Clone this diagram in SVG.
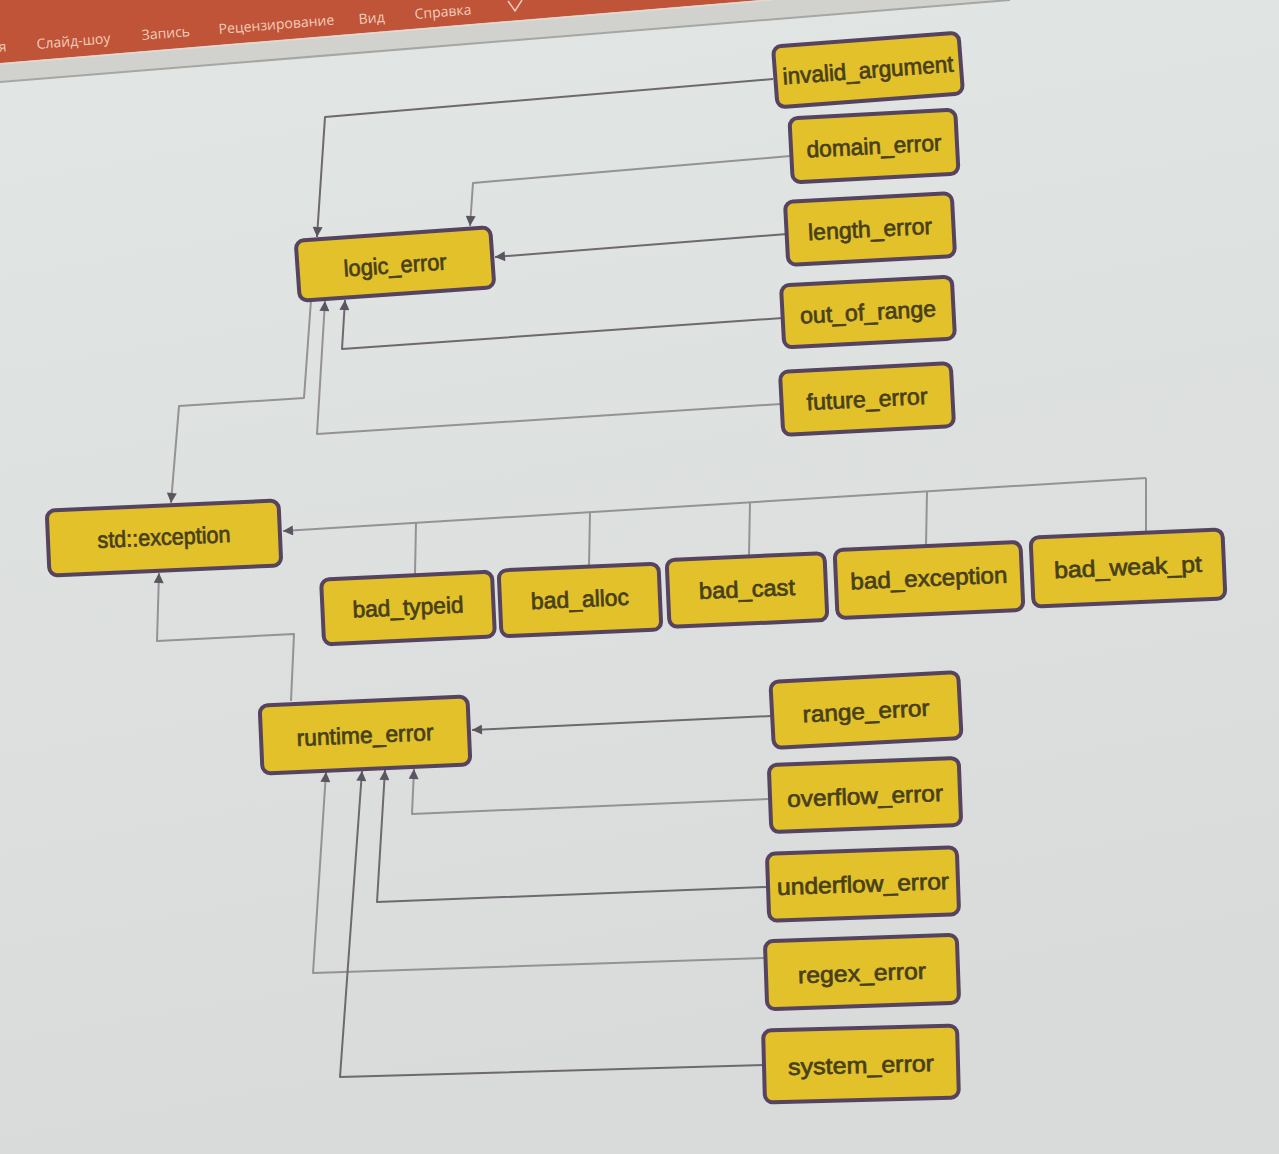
<svg xmlns="http://www.w3.org/2000/svg" width="1279" height="1154" viewBox="0 0 1279 1154">
<defs>
  <linearGradient id="bg" x1="0" y1="0" x2="0.2" y2="1">
    <stop offset="0" stop-color="#e2e6e4"/>
    <stop offset="1" stop-color="#d8dbd9"/>
  </linearGradient>
  <marker id="arr" viewBox="0 0 10 10" refX="10" refY="5" markerWidth="11" markerHeight="10" markerUnits="userSpaceOnUse" orient="auto">
    <path d="M0,0 L10,5 L0,10 z" fill="#5b5560"/>
  </marker>
  <style>
    .node rect{fill:#e2c12b;stroke:#56435f;stroke-width:4}
    .node text{font-family:"Liberation Sans",Arial,sans-serif;font-size:23px;fill:#48401a;stroke:#48401a;stroke-width:0.7;text-anchor:middle;dominant-baseline:central}
    .c{fill:none;stroke:#959294;stroke-width:2;stroke-linejoin:round}
    .d{stroke:#6e6870}
    .tb{font-family:"Open Sans","Noto Sans",sans-serif;font-size:14px;fill:#f3ccb8}
  </style>
</defs>

<!-- background / screen -->
<rect x="0" y="0" width="1279" height="1154" fill="url(#bg)"/>
<polygon points="0,0 1010,0 0,82" fill="#d1d2cd"/>
<line x1="0" y1="82" x2="1010" y2="0" stroke="#a6a7a3" stroke-width="2"/>
<polygon points="0,0 760,0 0,63" fill="#bf5438"/>
<line x1="0" y1="64" x2="772" y2="0" stroke="#e9d6cf" stroke-width="1.5"/>
<g id="toolbar">
  <text class="tb" x="-1" y="52" transform="rotate(-4.7 -1 52)">я</text>
  <text class="tb" x="37" y="49" transform="rotate(-4.7 37 49)">Слайд-шоу</text>
  <text class="tb" x="142" y="40" transform="rotate(-4.7 142 40)">Запись</text>
  <text class="tb" x="219" y="34" transform="rotate(-4.7 219 34)">Рецензирование</text>
  <text class="tb" x="359" y="24" transform="rotate(-4.7 359 24)">Вид</text>
  <text class="tb" x="415" y="19" transform="rotate(-4.7 415 19)">Справка</text>
  <path d="M508,1 L515,11 L522,0" fill="none" stroke="#f3ccb8" stroke-width="1.5"/>
</g>

<!-- connectors -->
<g id="connectors">
  <polyline class="c d" points="773,79 325,117 317,237" marker-end="url(#arr)"/>
  <polyline class="c" points="790,156 473,183 470,226" marker-end="url(#arr)"/>
  <polyline class="c d" points="787,234 495,257" marker-end="url(#arr)"/>
  <polyline class="c d" points="783,318 342,349 345,300" marker-end="url(#arr)"/>
  <polyline class="c" points="781,404 317,434 325,301" marker-end="url(#arr)"/>
  <polyline class="c" points="311,300 304,398 179,406 171,503" marker-end="url(#arr)"/>

  <polyline class="c" points="1146,478 283,531" marker-end="url(#arr)"/>
  <line class="c" x1="416" y1="523" x2="415" y2="574"/>
  <line class="c" x1="590" y1="512" x2="589" y2="566"/>
  <line class="c" x1="750" y1="502" x2="749" y2="556"/>
  <line class="c" x1="927" y1="491" x2="926" y2="545"/>
  <line class="c" x1="1146" y1="478" x2="1146" y2="531"/>

  <polyline class="c" points="291,701 294,634 157,641 159,573" marker-end="url(#arr)"/>

  <polyline class="c d" points="771,716 472,730" marker-end="url(#arr)"/>
  <polyline class="c" points="768,799 412,814 414,769" marker-end="url(#arr)"/>
  <polyline class="c d" points="766,887 377,902 385,770" marker-end="url(#arr)"/>
  <polyline class="c" points="764,958 313,973 326,772" marker-end="url(#arr)"/>
  <polyline class="c d" points="764,1065 340,1077 362,771" marker-end="url(#arr)"/>
</g>

<!-- nodes -->
<g id="nodes">
  <g id="invalid_argument" class="node" transform="rotate(-4.3 868 70)">
    <rect x="775" y="39.5" width="186" height="61" rx="8"/>
    <text x="868" y="70" font-size="22" textLength="171" lengthAdjust="spacingAndGlyphs">invalid_argument</text>
  </g>
  <g id="domain_error" class="node" transform="rotate(-3 874 146)">
    <rect x="791" y="114" width="166" height="64" rx="8"/>
    <text x="874" y="146" font-size="22" textLength="135" lengthAdjust="spacingAndGlyphs">domain_error</text>
  </g>
  <g id="length_error" class="node" transform="rotate(-3 870 229)">
    <rect x="786.5" y="197.5" width="167" height="63" rx="8"/>
    <text x="870" y="229" font-size="22" textLength="124" lengthAdjust="spacingAndGlyphs">length_error</text>
  </g>
  <g id="out_of_range" class="node" transform="rotate(-3 868 312)">
    <rect x="782.5" y="281" width="171" height="62" rx="8"/>
    <text x="868" y="312" font-size="22" textLength="136" lengthAdjust="spacingAndGlyphs">out_of_range</text>
  </g>
  <g id="future_error" class="node" transform="rotate(-3 867 399)">
    <rect x="781.5" y="367.5" width="171" height="63" rx="8"/>
    <text x="867" y="399" font-size="22" textLength="121" lengthAdjust="spacingAndGlyphs">future_error</text>
  </g>
  <g id="logic_error" class="node" transform="rotate(-4 395 264)">
    <rect x="297.5" y="234" width="195" height="60" rx="8"/>
    <text x="395" y="265" font-size="22" textLength="103" lengthAdjust="spacingAndGlyphs">logic_error</text>
  </g>
  <g id="std_exception" class="node" transform="rotate(-2.5 164 538)">
    <rect x="48" y="505.5" width="232" height="65" rx="8"/>
    <text x="164" y="537" font-size="22" textLength="133" lengthAdjust="spacingAndGlyphs">std::exception</text>
  </g>
  <g id="bad_typeid" class="node" transform="rotate(-2.7 408 608)">
    <rect x="322.5" y="575.5" width="171" height="65" rx="8"/>
    <text x="408" y="607" textLength="111" lengthAdjust="spacingAndGlyphs">bad_typeid</text>
  </g>
  <g id="bad_alloc" class="node" transform="rotate(-2.5 580 600)">
    <rect x="500" y="567" width="160" height="66" rx="8"/>
    <text x="580" y="599" textLength="98" lengthAdjust="spacingAndGlyphs">bad_alloc</text>
  </g>
  <g id="bad_cast" class="node" transform="rotate(-2.5 747 590)">
    <rect x="668" y="556.5" width="158" height="67" rx="8"/>
    <text x="747" y="589" textLength="96" lengthAdjust="spacingAndGlyphs">bad_cast</text>
  </g>
  <g id="bad_exception" class="node" transform="rotate(-2.5 929 580)">
    <rect x="836" y="546" width="186" height="68" rx="8"/>
    <text x="929" y="578" font-size="24" textLength="157" lengthAdjust="spacingAndGlyphs">bad_exception</text>
  </g>
  <g id="bad_weak_pt" class="node" transform="rotate(-2.5 1128 568)">
    <rect x="1032" y="533.5" width="192" height="69" rx="8"/>
    <text x="1128" y="567" font-size="24" textLength="148" lengthAdjust="spacingAndGlyphs">bad_weak_pt</text>
  </g>
  <g id="runtime_error" class="node" transform="rotate(-2.5 365 735)">
    <rect x="261" y="701" width="208" height="68" rx="8"/>
    <text x="365" y="735" textLength="137" lengthAdjust="spacingAndGlyphs">runtime_error</text>
  </g>
  <g id="range_error" class="node" transform="rotate(-3 866 710)">
    <rect x="772" y="677" width="188" height="66" rx="8"/>
    <text x="866" y="711" font-size="24" textLength="127" lengthAdjust="spacingAndGlyphs">range_error</text>
  </g>
  <g id="overflow_error" class="node" transform="rotate(-2.2 865 795)">
    <rect x="770" y="761.5" width="190" height="67" rx="8"/>
    <text x="865" y="796" font-size="24" textLength="156" lengthAdjust="spacingAndGlyphs">overflow_error</text>
  </g>
  <g id="underflow_error" class="node" transform="rotate(-2 863 884)">
    <rect x="768" y="850.5" width="190" height="67" rx="8"/>
    <text x="863" y="884" font-size="24" textLength="172" lengthAdjust="spacingAndGlyphs">underflow_error</text>
  </g>
  <g id="regex_error" class="node" transform="rotate(-2 862 972)">
    <rect x="766" y="938" width="192" height="68" rx="8"/>
    <text x="862" y="973" font-size="24" textLength="128" lengthAdjust="spacingAndGlyphs">regex_error</text>
  </g>
  <g id="system_error" class="node" transform="rotate(-1.5 861 1064)">
    <rect x="764" y="1028" width="194" height="72" rx="8"/>
    <text x="861" y="1065" font-size="24" textLength="146" lengthAdjust="spacingAndGlyphs">system_error</text>
  </g>
</g>
</svg>
